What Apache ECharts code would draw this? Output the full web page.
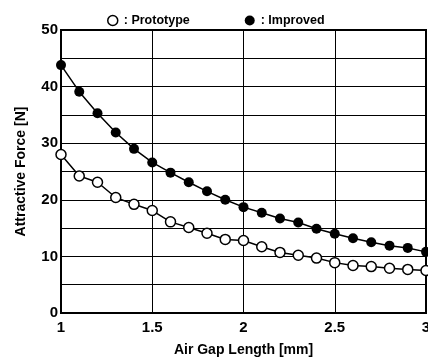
<!DOCTYPE html>
<html>
<head>
<meta charset="utf-8">
<script src="https://cdn.jsdelivr.net/npm/echarts@6/dist/echarts.min.js"></script>
<style>html,body{margin:0;padding:0;background:#fff}#c{width:428px;height:357px}</style>
</head>
<body>
<div id="c"></div>
<script>
const gapLength = [1.0,1.1,1.2,1.3,1.4,1.5,1.6,1.7,1.8,1.9,2.0,2.1,2.2,2.3,2.4,2.5,2.6,2.7,2.8,2.9,3.0];
const prototypeForce = [28.0,24.2,23.1,20.4,19.2,18.1,16.1,15.1,14.1,13.0,12.8,11.7,10.7,10.2,9.7,8.9,8.4,8.2,7.9,7.7,7.5];
const improvedForce = [43.8,39.1,35.3,31.9,29.0,26.6,24.8,23.1,21.5,20.0,18.7,17.7,16.7,16.0,14.9,14.0,13.2,12.5,11.9,11.5,10.8];
const xTicks = [1,1.5,2,2.5,3];
const yTicks = [0,10,20,30,40,50];

const pair = (xs, ys) => xs.map((x, i) => [x, ys[i]]);
const font = 'Liberation Sans, Arial, Helvetica, sans-serif';

const chart = echarts.init(document.getElementById('c'), null, {renderer: 'canvas'});
chart.setOption({
  animation: false,
  backgroundColor: '#fff',
  legend: {
    top: 9,
    left: 102,
    itemGap: 55,
    itemWidth: 10,
    itemHeight: 10,
    icon: 'circle',
    formatter: n => ': ' + n,
    textStyle: {fontFamily: font, fontSize: 12.5, fontWeight: 'bold', color: '#000', padding: [0,0,0,1]},
    data: [
      {name: 'Prototype', itemStyle: {color: '#fff', borderColor: '#000', borderWidth: 1.5}},
      {name: 'Improved', itemStyle: {color: '#000', borderColor: '#000', borderWidth: 0}}
    ]
  },
  grid: {left: 61, right: 2, top: 30, bottom: 44, show: true, borderColor: '#000', borderWidth: 2,
    containLabel: false, outerBoundsMode: 'none'},
  xAxis: {
    type: 'value', min: 1, max: 3, interval: 0.5,
    name: 'Air Gap Length [mm]', nameLocation: 'middle', nameGap: 30,
    nameTextStyle: {fontFamily: font, fontSize: 14, fontWeight: 'bold', color: '#000'},
    axisLine: {show: true, lineStyle: {color: '#000', width: 2}},
    axisTick: {show: false},
    axisLabel: {fontFamily: font, fontSize: 15, fontWeight: 'bold', color: '#000', margin: 7,
      formatter: v => xTicks.includes(v) ? String(v) : ''},
    splitLine: {show: true, lineStyle: {color: '#000', width: 1}}
  },
  yAxis: {
    type: 'value', min: 0, max: 50, interval: 5,
    name: 'Attractive Force [N]', nameLocation: 'middle', nameGap: 33, nameRotate: 90,
    nameTextStyle: {fontFamily: font, fontSize: 14, fontWeight: 'bold', color: '#000'},
    axisLine: {show: true, lineStyle: {color: '#000', width: 2}},
    axisTick: {show: false},
    axisLabel: {fontFamily: font, fontSize: 15, fontWeight: 'bold', color: '#000', margin: 3,
      formatter: v => yTicks.includes(v) ? String(v) : ''},
    splitLine: {show: true, lineStyle: {color: '#000', width: 1}}
  },
  series: [
    {
      name: 'Prototype', type: 'line', data: pair(gapLength, prototypeForce),
      symbol: 'circle', symbolSize: 10, z: 3,
      lineStyle: {color: '#000', width: 1.5},
      itemStyle: {color: '#fff', borderColor: '#000', borderWidth: 1.5}
    },
    {
      name: 'Improved', type: 'line', data: pair(gapLength, improvedForce),
      symbol: 'circle', symbolSize: 10, z: 3,
      lineStyle: {color: '#000', width: 1.5},
      itemStyle: {color: '#000', borderColor: '#000', borderWidth: 0}
    }
  ]
});
</script>
</body>
</html>
